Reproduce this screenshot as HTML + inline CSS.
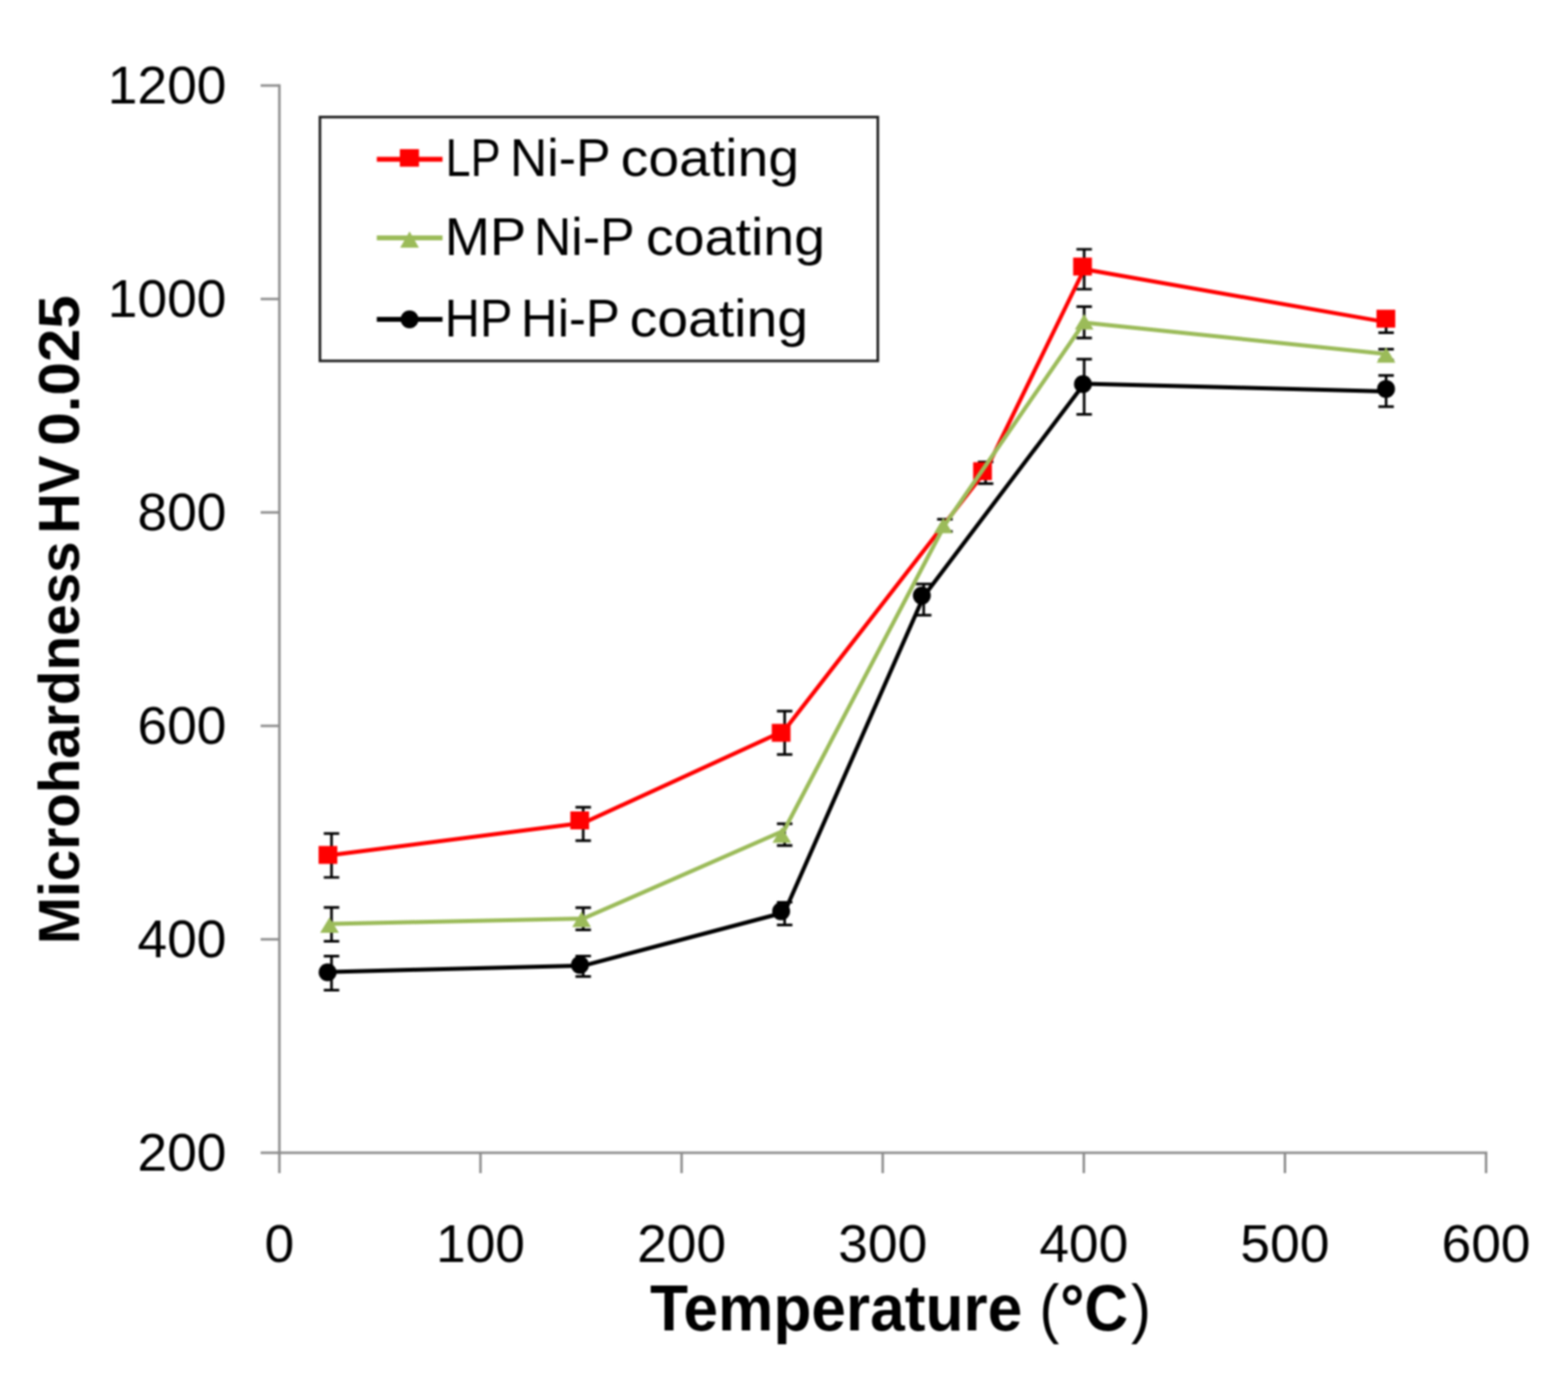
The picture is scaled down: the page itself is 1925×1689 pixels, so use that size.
<!DOCTYPE html>
<html><head><meta charset="utf-8"><title>Microhardness vs Temperature</title>
<style>html,body{margin:0;padding:0;background:#fff;}body{width:1925px;height:1689px;overflow:hidden;}svg{display:block;filter:blur(0.8px);}</style>
</head><body>
<svg width="1925" height="1689" viewBox="0 0 1925 1689"><g stroke="#8c8c8c" stroke-width="3" fill="none"><line x1="343.0" y1="103.5" x2="343.0" y2="1416.5"/><line x1="341.5" y1="1415.0" x2="1826" y2="1415.0"/><line x1="320" y1="1415.0" x2="343.0" y2="1415.0"/><line x1="320" y1="1153.0" x2="343.0" y2="1153.0"/><line x1="320" y1="891.0" x2="343.0" y2="891.0"/><line x1="320" y1="629.0" x2="343.0" y2="629.0"/><line x1="320" y1="367.0" x2="343.0" y2="367.0"/><line x1="320" y1="105.0" x2="343.0" y2="105.0"/><line x1="343.0" y1="1415.0" x2="343.0" y2="1440"/><line x1="589.9" y1="1415.0" x2="589.9" y2="1440"/><line x1="836.8" y1="1415.0" x2="836.8" y2="1440"/><line x1="1083.7" y1="1415.0" x2="1083.7" y2="1440"/><line x1="1330.6" y1="1415.0" x2="1330.6" y2="1440"/><line x1="1577.5" y1="1415.0" x2="1577.5" y2="1440"/><line x1="1824.4" y1="1415.0" x2="1824.4" y2="1440"/></g><g font-family="'Liberation Sans', Arial, sans-serif" font-size="65.5" fill="#000"><text x="278" y="1437.0" text-anchor="end">200</text><text x="278" y="1175.0" text-anchor="end">400</text><text x="278" y="913.0" text-anchor="end">600</text><text x="278" y="651.0" text-anchor="end">800</text><text x="278" y="389.0" text-anchor="end">1000</text><text x="278" y="127.0" text-anchor="end">1200</text><text x="343.0" y="1549" text-anchor="middle">0</text><text x="589.9" y="1549" text-anchor="middle">100</text><text x="836.8" y="1549" text-anchor="middle">200</text><text x="1083.7" y="1549" text-anchor="middle">300</text><text x="1330.6" y="1549" text-anchor="middle">400</text><text x="1577.5" y="1549" text-anchor="middle">500</text><text x="1824.4" y="1549" text-anchor="middle">600</text></g><g font-family="'Liberation Sans', Arial, sans-serif" fill="#000" transform="translate(97,1689) rotate(-90)"><text x="530.0" y="0" font-size="70" font-weight="bold" textLength="494.5" lengthAdjust="spacingAndGlyphs">Microhardness</text><text x="1034.0" y="0" font-size="70" font-weight="bold" textLength="95.5" lengthAdjust="spacingAndGlyphs">HV</text><text x="1142.0" y="0" font-size="70" font-weight="bold" textLength="184.5" lengthAdjust="spacingAndGlyphs">0.025</text></g><g font-family="'Liberation Sans', Arial, sans-serif" fill="#000"><text x="798.0" y="1632.5" font-size="80" font-weight="bold" textLength="457.0" lengthAdjust="spacingAndGlyphs">Temperature</text><text x="1276.0" y="1632.5" font-size="80" font-weight="normal" textLength="24.5" lengthAdjust="spacingAndGlyphs">(</text><text x="1301.5" y="1632.5" font-size="80" font-weight="bold" textLength="83.5" lengthAdjust="spacingAndGlyphs">°C</text><text x="1388.5" y="1632.5" font-size="80" font-weight="normal" textLength="24.5" lengthAdjust="spacingAndGlyphs">)</text></g><g stroke="#000000" stroke-width="3.2" fill="none"><path d="M407,1023.2V1077M397.5,1023.2H416.5M397.5,1077H416.5"/><path d="M716,990.9V1031.8M706.5,990.9H725.5M706.5,1031.8H725.5"/><path d="M963.3,872.9V926.2M953.8,872.9H972.8M953.8,926.2H972.8"/><path d="M1210,567V593.6M1200.5,567H1219.5M1200.5,593.6H1219.5"/><path d="M1331,306V355M1321.5,306H1340.5M1321.5,355H1340.5"/><path d="M1701.7,382.5V408.3M1692.2,382.5H1711.2M1692.2,408.3H1711.2"/></g><g stroke="#000000" stroke-width="3.2" fill="none"><path d="M407,1113.8V1155.3M397.5,1113.8H416.5M397.5,1155.3H416.5"/><path d="M716,1114.2V1141.4M706.5,1114.2H725.5M706.5,1141.4H725.5"/><path d="M963.3,1011.2V1037.8M953.8,1011.2H972.8M953.8,1037.8H972.8"/><path d="M1160,637.3V652.3M1150.5,637.3H1169.5M1150.5,652.3H1169.5"/><path d="M1331,376.4V414.8M1321.5,376.4H1340.5M1321.5,414.8H1340.5"/><path d="M1701.7,428.7V442M1692.2,428.7H1711.2M1692.2,442H1711.2"/></g><g stroke="#000000" stroke-width="3.2" fill="none"><path d="M407,1173.7V1215.3M397.5,1173.7H416.5M397.5,1215.3H416.5"/><path d="M716,1173.5V1198.7M706.5,1173.5H725.5M706.5,1198.7H725.5"/><path d="M963.3,1107.5V1135.3M953.8,1107.5H972.8M953.8,1135.3H972.8"/><path d="M1134,716.8V755.2M1124.5,716.8H1143.5M1124.5,755.2H1143.5"/><path d="M1331,440.9V508.6M1321.5,440.9H1340.5M1321.5,508.6H1340.5"/><path d="M1701.7,460.9V499.2M1692.2,460.9H1711.2M1692.2,499.2H1711.2"/></g><polyline points="407,1049.5 716.5,1010 962.5,897 1210,578 1331,330.5 1701.7,395.4" fill="none" stroke="#ff0000" stroke-width="5" stroke-linejoin="round" stroke-linecap="round"/><rect x="391.1" y="1038.4" width="23" height="22" fill="#ff0000"/><rect x="700.2" y="996.0" width="23" height="22" fill="#ff0000"/><rect x="947.5" y="888.5" width="23" height="22" fill="#ff0000"/><rect x="1194.7" y="567.4" width="23" height="22" fill="#ff0000"/><rect x="1317.5" y="316.2" width="23" height="22" fill="#ff0000"/><rect x="1689.9" y="380.2" width="23" height="22" fill="#ff0000"/><polyline points="407,1134 716,1127.5 962.5,1019.5 1160,644 1331,396 1701.7,434.5" fill="none" stroke="#9bbb59" stroke-width="5" stroke-linejoin="round" stroke-linecap="round"/><polygon points="404.5,1126.0 416.0,1145.0 393.0,1145.0" fill="#9bbb59"/><polygon points="714.0,1119.0 725.5,1138.0 702.5,1138.0" fill="#9bbb59"/><polygon points="959.8,1015.5 971.3,1034.5 948.3,1034.5" fill="#9bbb59"/><polygon points="1158.0,635.5 1169.5,654.5 1146.5,654.5" fill="#9bbb59"/><polygon points="1331.0,385.5 1342.5,404.5 1319.5,404.5" fill="#9bbb59"/><polygon points="1701.6,426.3 1713.1,445.3 1690.1,445.3" fill="#9bbb59"/><polyline points="407,1193 716,1185.3 963,1120 1134,732 1331,471 1701.7,480.5" fill="none" stroke="#000000" stroke-width="5" stroke-linejoin="round" stroke-linecap="round"/><circle cx="402.2" cy="1193.5" r="11" fill="#000000"/><circle cx="712" cy="1184.4" r="11" fill="#000000"/><circle cx="959" cy="1118.6" r="11" fill="#000000"/><circle cx="1131.7" cy="731.1" r="11" fill="#000000"/><circle cx="1329.5" cy="471.5" r="11" fill="#000000"/><circle cx="1701.6" cy="477.4" r="11" fill="#000000"/><rect x="392.8" y="143.7" width="684.9" height="299.3" fill="#fff" stroke="#1e1e1e" stroke-width="3.2"/><line x1="462.6" y1="195.5" x2="543.3" y2="195.5" stroke="#ff0000" stroke-width="6"/><rect x="490.9" y="183.1" width="23.5" height="21.5" fill="#ff0000"/><line x1="462.6" y1="292.1" x2="543.3" y2="292.1" stroke="#9bbb59" stroke-width="6"/><polygon points="502.8,284.0 514.3,304.0 491.3,304.0" fill="#9bbb59"/><line x1="462.6" y1="392" x2="543.3" y2="392" stroke="#000000" stroke-width="6"/><circle cx="502.8" cy="392" r="11" fill="#000000"/><g font-family="'Liberation Sans', Arial, sans-serif" fill="#000"><text x="547.0" y="215.7" font-size="65.5" font-weight="normal" textLength="67.5" lengthAdjust="spacingAndGlyphs">LP</text><text x="626.0" y="215.7" font-size="65.5" font-weight="normal" textLength="123.5" lengthAdjust="spacingAndGlyphs">Ni-P</text><text x="762.0" y="215.7" font-size="65.5" font-weight="normal" textLength="219.0" lengthAdjust="spacingAndGlyphs">coating</text><text x="546.0" y="312.9" font-size="65.5" font-weight="normal" textLength="100.0" lengthAdjust="spacingAndGlyphs">MP</text><text x="655.5" y="312.9" font-size="65.5" font-weight="normal" textLength="123.5" lengthAdjust="spacingAndGlyphs">Ni-P</text><text x="793.0" y="312.9" font-size="65.5" font-weight="normal" textLength="220.0" lengthAdjust="spacingAndGlyphs">coating</text><text x="546.0" y="413" font-size="65.5" font-weight="normal" textLength="83.0" lengthAdjust="spacingAndGlyphs">HP</text><text x="639.5" y="413" font-size="65.5" font-weight="normal" textLength="121.5" lengthAdjust="spacingAndGlyphs">Hi-P</text><text x="773.0" y="413" font-size="65.5" font-weight="normal" textLength="219.0" lengthAdjust="spacingAndGlyphs">coating</text></g></svg>
</body></html>
